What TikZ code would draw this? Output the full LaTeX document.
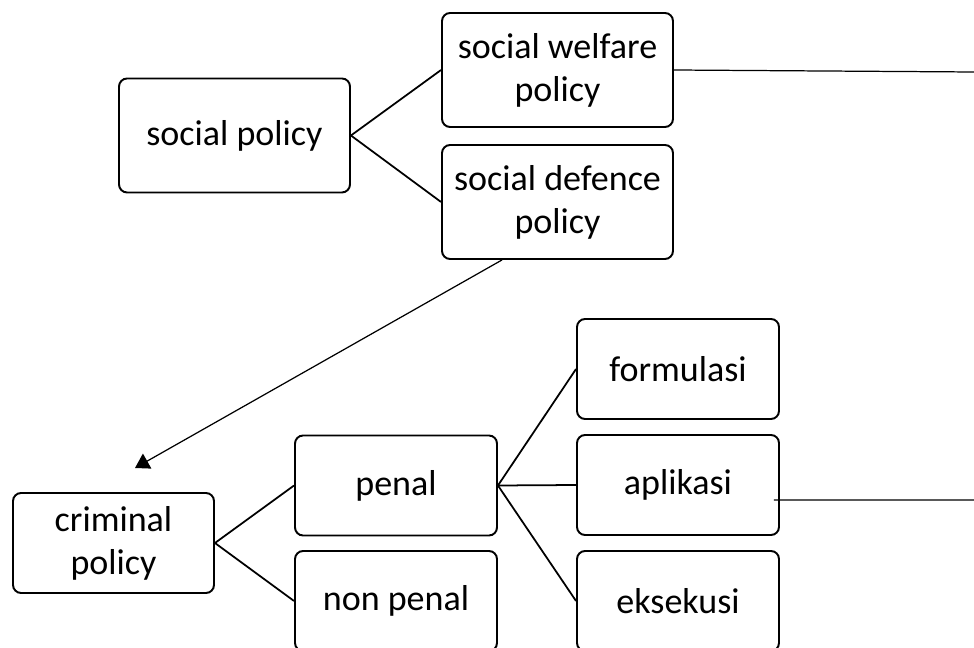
\documentclass[tikz,border=0pt]{standalone}
\usepackage{fontspec}
\setmainfont{Carlito}
\usetikzlibrary{arrows.meta}
\begin{document}
\begin{tikzpicture}[x=.02cm, y=-.02cm, >={Triangle[length=.28cm,width=.34cm]},
  box/.style={draw, line width=1.1pt, rounded corners=.16cm, align=center, inner sep=0pt, font=\fontsize{20.5}{24.5}\selectfont},
  widebox/.style={box, minimum width=4.62cm, minimum height=2.28cm},
  smallbox/.style={box, minimum width=4.04cm, minimum height=2cm},
  link/.style={line width=1pt}, thin link/.style={line width=.7pt}]
\useasboundingbox (0,0) rectangle (974,648);
% top row
\node[widebox] (social) at (234.5,135.5) {social policy};
\node[widebox] (welfare) at (557.5,70) {social welfare\\policy};
\node[widebox] (defence) at (557.5,202) {social defence\\policy};
% bottom row
\node[smallbox, minimum width=4.02cm] (criminal) at (113.5,543) {criminal\\policy};
\node[smallbox] (penal) at (396,485.5) {penal};
\node[smallbox] (nonpenal) at (396,601) {non penal};
\node[smallbox] (formulasi) at (678,369) {formulasi};
\node[smallbox] (aplikasi) at (678,485) {aplikasi};
\node[smallbox] (eksekusi) at (678,601) {eksekusi};
\coordinate (welfareout) at (974,72);
\coordinate (aplikasiout) at (974,500);
\coordinate (crimtip) at (135,468);
\draw[link] (social.east)--(welfare.west);
\draw[link] (social.east)--(defence.west);
\draw[thin link] (welfare.east)--(welfareout);
\draw[thin link, ->] ([xshift=-1.11cm]defence.south)--(crimtip);
\draw[link] (criminal.east)--(penal.west);
\draw[link] (criminal.east)--(nonpenal.west);
\draw[link] (penal.east)--(formulasi.west);
\draw[link] (penal.east)--(aplikasi.west);
\draw[link] (penal.east)--(eksekusi.west);
\draw[thin link] ([xshift=-.12cm,yshift=-.3cm]aplikasi.east)--(aplikasiout);
\end{tikzpicture}
\end{document}
